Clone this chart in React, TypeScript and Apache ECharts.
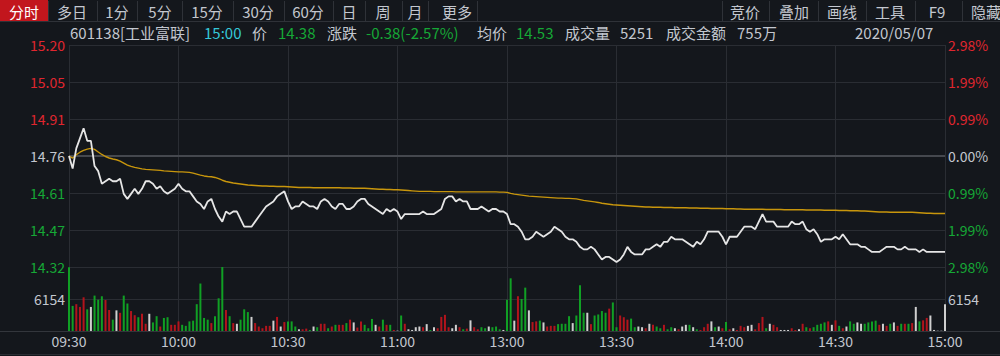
import React, { useEffect, useRef } from "react";
import * as echarts from "echarts";

// ---------- data ----------
const stockCode = "601138";
const stockName = "工业富联";
const quoteTime = "15:00";
const lastPrice = 14.38;
const change = -0.38;
const changePct = -2.57;
const avgLast = 14.53;
const totalVolume = 5251;
const totalAmount = "755万";
const tradeDate = "2020/05/07";
const prevClose = 14.76;
const pctLimit = 2.98;

const periodTabs = ["分时", "多日", "1分", "5分", "15分", "30分", "60分", "日", "周", "月", "更多"];
const toolTabs = ["竞价", "叠加", "画线", "工具", "F9", "隐藏"];
const timeTicks = ["09:30", "10:00", "10:30", "11:00", "13:00", "13:30", "14:00", "14:30", "15:00"];

const price = [
  14.76, 14.71, 14.79, 14.83, 14.87, 14.82, 14.82, 14.72, 14.70, 14.65,
  14.66, 14.67, 14.66, 14.66, 14.67, 14.61, 14.59, 14.61, 14.63, 14.61,
  14.63, 14.66, 14.66, 14.65, 14.63, 14.64, 14.62, 14.61, 14.62, 14.63,
  14.65, 14.63, 14.62, 14.62, 14.60, 14.58, 14.57, 14.55, 14.58, 14.59,
  14.55, 14.52, 14.50, 14.54, 14.53, 14.54, 14.54, 14.51, 14.48, 14.48,
  14.48, 14.50, 14.52, 14.54, 14.56, 14.57, 14.58, 14.60, 14.61, 14.62,
  14.58, 14.55, 14.56, 14.56, 14.58, 14.57, 14.56, 14.56, 14.55, 14.58,
  14.59, 14.58, 14.56, 14.55, 14.57, 14.57, 14.55, 14.55, 14.56, 14.58,
  14.59, 14.59, 14.57, 14.56, 14.55, 14.54, 14.53, 14.55, 14.54, 14.55,
  14.54, 14.51, 14.53, 14.53, 14.53, 14.53, 14.53, 14.54, 14.53, 14.53,
  14.53, 14.54, 14.55, 14.59, 14.60, 14.60, 14.58, 14.59, 14.58, 14.58,
  14.55, 14.55, 14.55, 14.56, 14.55, 14.54, 14.55, 14.55, 14.54, 14.54,
  14.53, 14.49, 14.49, 14.48, 14.46, 14.43, 14.43, 14.44, 14.46, 14.45,
  14.44, 14.45, 14.46, 14.48, 14.47, 14.46, 14.44, 14.43, 14.43, 14.42,
  14.40, 14.39, 14.39, 14.40, 14.39, 14.37, 14.35, 14.36, 14.36, 14.35,
  14.34, 14.35, 14.37, 14.40, 14.38, 14.37, 14.37, 14.37, 14.39, 14.39,
  14.40, 14.41, 14.40, 14.42, 14.42, 14.44, 14.43, 14.43, 14.43, 14.42,
  14.41, 14.40, 14.42, 14.41, 14.43, 14.46, 14.46, 14.46, 14.46, 14.44,
  14.41, 14.44, 14.44, 14.44, 14.46, 14.48, 14.48, 14.48, 14.47, 14.50,
  14.53, 14.50, 14.50, 14.50, 14.48, 14.48, 14.48, 14.48, 14.50, 14.49,
  14.49, 14.50, 14.47, 14.46, 14.47, 14.45, 14.42, 14.43, 14.43, 14.43,
  14.44, 14.43, 14.45, 14.43, 14.41, 14.41, 14.41, 14.40, 14.40, 14.39,
  14.38, 14.38, 14.38, 14.39, 14.40, 14.40, 14.40, 14.39, 14.39, 14.40,
  14.39, 14.39, 14.39, 14.38, 14.39, 14.38, 14.38, 14.38, 14.38, 14.38,
  14.38,
];

const avgPrice = [
  14.760, 14.752, 14.765, 14.775, 14.782, 14.787, 14.790, 14.786, 14.776, 14.766,
  14.758, 14.752, 14.748, 14.745, 14.740, 14.732, 14.724, 14.719, 14.715, 14.712,
  14.709, 14.707, 14.706, 14.705, 14.704, 14.703, 14.701, 14.700, 14.699, 14.698,
  14.697, 14.697, 14.696, 14.695, 14.692, 14.688, 14.684, 14.681, 14.679, 14.678,
  14.675, 14.670, 14.664, 14.659, 14.656, 14.653, 14.651, 14.649, 14.647, 14.645,
  14.644, 14.643, 14.642, 14.641, 14.641, 14.640, 14.640, 14.639, 14.639, 14.639,
  14.638, 14.637, 14.636, 14.635, 14.635, 14.635, 14.635, 14.634, 14.634, 14.634,
  14.634, 14.634, 14.634, 14.634, 14.634, 14.633, 14.633, 14.633, 14.632, 14.632,
  14.632, 14.632, 14.631, 14.630, 14.629, 14.628, 14.628, 14.627, 14.627, 14.626,
  14.626, 14.625, 14.624, 14.623, 14.622, 14.621, 14.620, 14.620, 14.620, 14.620,
  14.619, 14.619, 14.619, 14.619, 14.619, 14.619, 14.618, 14.618, 14.618, 14.618,
  14.618, 14.618, 14.618, 14.618, 14.618, 14.618, 14.618, 14.618, 14.617, 14.617,
  14.616, 14.612, 14.609, 14.607, 14.605, 14.603, 14.601, 14.600, 14.599, 14.598,
  14.597, 14.596, 14.595, 14.594, 14.593, 14.593, 14.592, 14.592, 14.591, 14.590,
  14.587, 14.584, 14.582, 14.580, 14.578, 14.576, 14.573, 14.571, 14.569, 14.567,
  14.566, 14.565, 14.564, 14.563, 14.562, 14.561, 14.560, 14.559, 14.558, 14.558,
  14.557, 14.557, 14.557, 14.556, 14.556, 14.556, 14.555, 14.555, 14.555, 14.555,
  14.554, 14.554, 14.554, 14.553, 14.553, 14.553, 14.552, 14.552, 14.552, 14.552,
  14.551, 14.551, 14.551, 14.550, 14.550, 14.549, 14.549, 14.549, 14.549, 14.549,
  14.549, 14.548, 14.548, 14.548, 14.548, 14.548, 14.547, 14.547, 14.547, 14.547,
  14.547, 14.547, 14.546, 14.546, 14.546, 14.546, 14.546, 14.545, 14.545, 14.545,
  14.545, 14.544, 14.544, 14.544, 14.543, 14.543, 14.543, 14.542, 14.542, 14.541,
  14.540, 14.539, 14.538, 14.538, 14.538, 14.537, 14.537, 14.537, 14.537, 14.537,
  14.537, 14.537, 14.536, 14.535, 14.534, 14.533, 14.533, 14.532, 14.532, 14.532,
  14.532,
];

const volume = [
  12250, 4830, 5160, 4630, 6480, 4170, 4630, 6810, 6020, 6680,
  5960, 4040, 2180, 3970, 3500, 6810, 5290, 3840, 3040, 2650,
  3310, 1390, 3310, 1650, 2850, 860, 2510, 2650, 1190, 1190,
  1850, 1190, 990, 1850, 1990, 5160, 9130, 2510, 2180, 1520,
  2850, 6290, 12300, 4040, 2850, 1520, 1390, 2180, 4170, 3640,
  2710, 1520, 860, 530, 990, 990, 1990, 2710, 860, 1720,
  1850, 1850, 860, 330, 330, 460, 200, 860, 730, 1390,
  1390, 530, 860, 1190, 1190, 1190, 1520, 2180, 1650, 660,
  1850, 1190, 530, 2320, 1190, 860, 2180, 1190, 1190, 200,
  70, 2980, 1390, 330, 200, 730, 860, 730, 1320, 200,
  730, 530, 2710, 3110, 730, 530, 1190, 730, 330, 460,
  2050, 730, 330, 730, 530, 860, 730, 860, 330, 200,
  6020, 10130, 1990, 6690, 6160, 8340, 3970, 1720, 1850, 1990,
  1650, 860, 990, 990, 1320, 1390, 1390, 2850, 1520, 2980,
  8800, 3510, 3510, 1320, 2980, 3180, 3840, 3510, 4300, 5490,
  730, 2980, 2650, 2180, 2380, 730, 860, 730, 530, 1390,
  1190, 860, 530, 1190, 330, 730, 530, 330, 860, 1190,
  1190, 730, 330, 200, 730, 1390, 1850, 730, 860, 530,
  1720, 330, 530, 200, 990, 730, 990, 1190, 330, 1520,
  2710, 530, 1390, 1190, 730, 200, 200, 200, 530, 200,
  330, 1390, 730, 530, 730, 1190, 1390, 1650, 1850, 1190,
  2050, 990, 530, 860, 1850, 1390, 1650, 1390, 1390, 1650,
  1850, 1990, 1190, 1390, 990, 1390, 1650, 990, 1390, 1390,
  1390, 1520, 4630, 1850, 2050, 2520, 2980, 200, 60, 60,
  5160,
];

// r = up (red), g = down (green), w = unchanged (white)
const volumeSide = (
  "ggrrrgwggg" + "rrgwrggrrg" + "rrwggrggrr" + "rggggggggrr".slice(0, 10) +
  "gggrgrwggg" + "wrrrrrwrwr" + "gggwrrgwgr" + "rgrgrrgrwr" +
  "rgggwrgrgr" + "wgrwwwwrwg" + "wrrrrwwrgr" + "wrrggwgggw" +
  "ggwrggwrrg" + "wrrrggggwg" + "ggwrggggrg" + "grrrggwwrw" +
  "rggrggwrww" + "gwgrrrwgwr" + "grwrrrwwrr" + "rgwrrwwwrr" +
  "wrgrggggrw" + "rgrwggwwgg" + "ggrwrgwrgr" + "grwgrrwwww" +
  "w"
).split("");

const volTick = 6154;

// minute categories: 09:30..11:30, 13:01..15:00
const minutes: string[] = [];
for (let i = 0; i <= 240; i++) {
  const t = i <= 120 ? 9 * 60 + 30 + i : 13 * 60 + (i - 120);
  const h = Math.floor(t / 60);
  const m = t % 60;
  minutes.push(`${h < 10 ? "0" + h : h}:${m < 10 ? "0" + m : m}`);
}

// ---------- style ----------
const BG = "#14171c";
const GRID = "#2a2d33";
const LINE = "#2f3238";
const RED = "#e0262f";
const GREEN = "#16a836";
const GRAY = "#c3c7cf";
const CYAN = "#35c8d8";
const BAR_RED = "#b3141c";
const BAR_GREEN = "#10a024";
const BAR_WHITE = "#cfcfcf";
const FONT = '"Noto Sans CJK SC", "Noto Sans", sans-serif';

const toPct = (p: number) => (p / prevClose - 1) * 100;
const signColor = (v: number) => (v > 1e-6 ? RED : v < -1e-6 ? GREEN : GRAY);

function txt(text: string, x: number, y: number, fill: string, align = "left", size = 14) {
  return {
    type: "text",
    x,
    y,
    silent: true,
    style: {
      text,
      fill,
      fontSize: size,
      fontFamily: FONT,
      align,
      textAlign: align,
      verticalAlign: "middle",
      textVerticalAlign: "middle",
    },
  };
}
function vline(x: number, y1: number, y2: number, color = LINE) {
  return { type: "line", silent: true, shape: { x1: x, y1, x2: x, y2 }, style: { stroke: color, lineWidth: 1 } };
}
function hline(y: number, x1: number, x2: number, color = LINE) {
  return { type: "line", silent: true, shape: { x1, y1: y, x2, y2: y }, style: { stroke: color, lineWidth: 1 } };
}

function buildOption() {
  const tabCenters = [24, 72, 117, 160, 207, 258, 308, 349, 383, 415, 457];
  const tabSeps = [48, 97, 137, 182, 233, 284, 333, 365, 402, 428, 477];
  const toolCenters = [745, 794, 842, 890, 937];
  const toolSeps = [722, 769, 818, 866, 915, 962];

  const graphics: any[] = [];
  graphics.push({ type: "rect", silent: true, shape: { x: 0, y: 0, width: 48, height: 21 }, style: { fill: "#c2161d" } });
  tabSeps.forEach((x) => graphics.push(vline(x + 0.5, 1, 21)));
  toolSeps.forEach((x) => graphics.push(vline(x + 0.5, 1, 21)));
  graphics.push(hline(21.5, 0, 1000));
  periodTabs.forEach((t, i) => graphics.push(txt(t, tabCenters[i], 11, i === 0 ? "#ffffff" : GRAY, "center", 15)));
  toolTabs.forEach((t, i) => {
    if (i < toolCenters.length) graphics.push(txt(t, toolCenters[i], 11, GRAY, "center", 15));
    else graphics.push(txt(t, 971, 11, GRAY, "left", 15));
  });

  const infoY = 32;
  graphics.push(txt(`${stockCode}[${stockName}]`, 70, infoY, GRAY, "left", 15));
  graphics.push(txt(quoteTime, 204, infoY, CYAN, "left", 15));
  graphics.push(txt("价", 252, infoY, GRAY, "left", 15));
  graphics.push(txt(lastPrice.toFixed(2), 278, infoY, GREEN, "left", 15));
  graphics.push(txt("涨跌", 327, infoY, GRAY, "left", 15));
  graphics.push(txt(`${change.toFixed(2)}(${changePct.toFixed(2)}%)`, 366, infoY, GREEN, "left", 15));
  graphics.push(txt("均价", 477, infoY, GRAY, "left", 15));
  graphics.push(txt(avgLast.toFixed(2), 516, infoY, GREEN, "left", 15));
  graphics.push(txt("成交量", 565, infoY, GRAY, "left", 15));
  graphics.push(txt(String(totalVolume), 620, infoY, GRAY, "left", 15));
  graphics.push(txt("成交金额", 666, infoY, GRAY, "left", 15));
  graphics.push(txt(totalAmount, 737, infoY, GRAY, "left", 15));
  graphics.push(txt(tradeDate, 855, infoY, GRAY, "left", 15));

  graphics.push(hline(331.5, 0, 1000, "#33363c"));
  graphics.push(hline(354.5, 0, 1000, "#2a2d33"));

  const step = pctLimit / 3;
  const vSplit = {
    show: true,
    interval: (i: number) => i % 30 === 0,
    lineStyle: { color: GRID, width: 1 },
  };

  return {
    animation: false,
    backgroundColor: BG,
    textStyle: { fontFamily: FONT },
    graphic: { elements: graphics },
    grid: [
      { left: 69, top: 45, width: 876, height: 222 },
      { left: 69, top: 267, width: 876, height: 64 },
    ],
    xAxis: [
      {
        type: "category",
        gridIndex: 0,
        data: minutes,
        boundaryGap: false,
        axisLine: { show: false },
        axisTick: { show: false },
        axisLabel: { show: false },
        splitLine: vSplit,
      },
      {
        type: "category",
        gridIndex: 1,
        data: minutes,
        boundaryGap: false,
        axisLine: { show: false },
        axisTick: { show: false },
        axisLabel: {
          show: true,
          interval: (i: number) => i % 30 === 0,
          formatter: (_v: string, i: number) => timeTicks[Math.round(i / 30)] || "",
          color: GRAY,
          fontSize: 14,
          margin: 3,
          fontFamily: FONT,
        },
        splitLine: vSplit,
      },
    ],
    yAxis: [
      {
        type: "value",
        gridIndex: 0,
        position: "left",
        min: -pctLimit,
        max: pctLimit,
        interval: step,
        axisLine: { show: false },
        axisTick: { show: false },
        axisLabel: {
          formatter: (v: number) => (prevClose * (1 + v / 100)).toFixed(2),
          color: (v: any) => signColor(Number(v)),
          fontSize: 14,
          margin: 4,
          fontFamily: FONT,
        },
        splitLine: { show: true, lineStyle: { color: GRID, width: 1 } },
      },
      {
        type: "value",
        gridIndex: 0,
        position: "right",
        min: -pctLimit,
        max: pctLimit,
        interval: step,
        axisLine: { show: false },
        axisTick: { show: false },
        axisLabel: {
          formatter: (v: number) => Math.abs(v).toFixed(2) + "%",
          color: (v: any) => signColor(Number(v)),
          fontSize: 14,
          margin: 3,
          fontFamily: FONT,
        },
        splitLine: { show: false },
      },
      {
        type: "value",
        gridIndex: 1,
        position: "left",
        min: 0,
        max: volTick * 2,
        interval: volTick,
        axisLine: { show: false },
        axisTick: { show: false },
        axisLabel: {
          formatter: (v: number) => (v === volTick ? String(volTick) : ""),
          color: GRAY,
          fontSize: 14,
          margin: 4,
          fontFamily: FONT,
        },
        splitLine: { show: true, lineStyle: { color: ["rgba(0,0,0,0)", GRID, "rgba(0,0,0,0)"] } },
      },
      {
        type: "value",
        gridIndex: 1,
        position: "right",
        min: 0,
        max: volTick * 2,
        interval: volTick,
        axisLine: { show: false },
        axisTick: { show: false },
        axisLabel: {
          formatter: (v: number) => (v === volTick ? String(volTick) : ""),
          color: GRAY,
          fontSize: 14,
          margin: 3,
          fontFamily: FONT,
        },
        splitLine: { show: false },
      },
    ],
    series: [
      {
        type: "line",
        name: "均价",
        xAxisIndex: 0,
        yAxisIndex: 0,
        data: avgPrice.map(toPct),
        showSymbol: false,
        symbol: "none",
        lineStyle: { color: "#c8960c", width: 1.4 },
        z: 3,
        markLine: {
          silent: true,
          symbol: ["none", "none"],
          label: { show: false },
          lineStyle: { color: "#45484e", width: 2, type: "solid" },
          data: [{ yAxis: 0 }],
          z: 1,
        },
      },
      {
        type: "line",
        name: "价格",
        xAxisIndex: 0,
        yAxisIndex: 0,
        data: price.map(toPct),
        showSymbol: false,
        symbol: "none",
        lineStyle: { color: "#e6e6e6", width: 1.8 },
        z: 4,
      },
      {
        type: "bar",
        name: "成交量",
        xAxisIndex: 1,
        yAxisIndex: 2,
        barWidth: 2,
        data: volume.map((v, i) => ({
          value: v,
          itemStyle: {
            color: volumeSide[i] === "r" ? BAR_RED : volumeSide[i] === "g" ? BAR_GREEN : BAR_WHITE,
          },
        })),
      },
    ],
  };
}

export default function App() {
  const ref = useRef<HTMLDivElement>(null);
  useEffect(() => {
    document.body.style.margin = "0";
    const chart = echarts.init(ref.current as HTMLDivElement, null, { renderer: "svg" });
    chart.setOption(buildOption() as any);
    return () => chart.dispose();
  }, []);
  return (
    <div
      ref={ref}
      style={{ position: "fixed", left: 0, top: 0, width: 1000, height: 356, background: BG }}
    />
  );
}
